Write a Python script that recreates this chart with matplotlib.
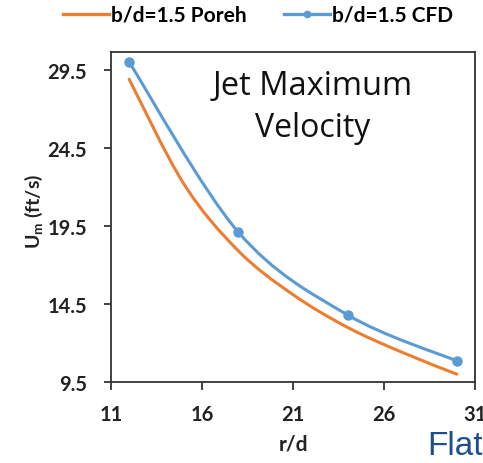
import matplotlib
matplotlib.use("Agg")
import matplotlib.pyplot as plt
from matplotlib.path import Path
from matplotlib.patches import PathPatch
from matplotlib.lines import Line2D
import numpy as np

# data
poreh_r = [12, 15, 18, 21, 24, 27, 30]
poreh_u = [28.9, 22.2, 17.9, 15.1, 13.0, 11.4, 10.0]
cfd_r = [12, 18, 24, 30]
cfd_u = [30.0, 19.1, 13.8, 10.85]
xticks = [11, 16, 21, 26, 31]
yticks = [9.5, 14.5, 19.5, 24.5, 29.5]

ORANGE = "#ED7D31"
BLUE = "#5B9BD5"
TXT = "#222222"

plt.rcParams['font.family'] = ['Lato', 'DejaVu Sans']
plt.rcParams['mathtext.fontset'] = 'custom'
plt.rcParams['mathtext.rm'] = 'Lato:bold'
plt.rcParams['mathtext.bf'] = 'Lato:bold'

W, H = 483, 464
fig = plt.figure(figsize=(W / 100, H / 100), dpi=100)
ax = fig.add_axes([111 / W, 1 - 383 / H, (475 - 111) / W, (383 - 52.7) / H])


def smooth_path(xs, ys):
    pts = np.column_stack([xs, ys]).astype(float)
    n = len(pts)
    verts = [pts[0]]
    codes = [Path.MOVETO]
    for i in range(n - 1):
        p0 = pts[i - 1] if i > 0 else pts[i]
        p1 = pts[i]
        p2 = pts[i + 1]
        p3 = pts[i + 2] if i + 2 < n else pts[i + 1]
        c1 = p1 + (p2 - p0) / 6.0
        c2 = p2 - (p3 - p1) / 6.0
        verts += [c1, c2, p2]
        codes += [Path.CURVE4] * 3
    return Path(verts, codes)


ax.add_patch(PathPatch(smooth_path(poreh_r, poreh_u), fill=False,
                       edgecolor=ORANGE, lw=2.2, capstyle='round'))
ax.add_patch(PathPatch(smooth_path(cfd_r, cfd_u), fill=False,
                       edgecolor=BLUE, lw=2.2, capstyle='round'))
ax.plot(cfd_r, cfd_u, 'o', color=BLUE, ms=6.5, clip_on=False)

ax.set_xlim(11, 31)
ax.set_ylim(9.5, 30.67)
ax.set_xticks(xticks)
ax.set_xticklabels([str(v) for v in xticks])
ax.set_yticks(yticks)
ax.set_yticklabels([f"{v}" for v in yticks])
for lab in ax.get_xticklabels() + ax.get_yticklabels():
    lab.set_fontweight('bold')
    lab.set_fontsize(14.5)
    lab.set_color(TXT)
ax.tick_params(axis='y', direction='out', length=5.2, width=1.2, color=TXT, pad=12)
ax.tick_params(axis='x', direction='out', length=5.5, width=1.2, color=TXT, pad=10)

for s in ax.spines.values():
    s.set_color('#333333')
    s.set_linewidth(1.3)

ax.set_xlabel('r/d', fontsize=15, fontweight='bold', color=TXT)
ax.xaxis.set_label_coords((293 - 111) / 364, -(445 - 383) / 330.3)
ax.xaxis.label.set_va('center')
ax.set_ylabel(r'U$_{\mathrm{m}}$ (ft/s)', fontsize=14, fontweight='bold', color=TXT)
ax.yaxis.set_label_coords(-(111 - 34) / 364, (383 - 211) / 330.3)
ax.yaxis.label.set_va('center')

ax.text(0.554, 0.872, 'Jet Maximum', transform=ax.transAxes, ha='center', va='baseline',
        fontsize=23.5, family=['Open Sans', 'DejaVu Sans'], color='#111111')
ax.text(0.554, 0.745, 'Velocity', transform=ax.transAxes, ha='center', va='baseline',
        fontsize=23, family=['Open Sans', 'DejaVu Sans'], color='#111111')

handles = [Line2D([], [], color=ORANGE, lw=2.4),
           Line2D([], [], color=BLUE, lw=2.4, marker='o', ms=4.5)]
fig.legend(handles, ['b/d=1.5 Poreh', 'b/d=1.5 CFD'], loc='center',
           bbox_to_anchor=(258 / W, 1 - 16 / H), ncol=2, frameon=False,
           prop={'weight': 'bold', 'size': 15}, handlelength=2.2, columnspacing=1.8,
           handletextpad=0.1, borderaxespad=0)

fig.text(427 / W, 9 / H, 'Flat', fontsize=24, family=['Liberation Sans'], color='#1F4E8C',
         ha='left', va='baseline')

fig.savefig('out.png', dpi=100)
